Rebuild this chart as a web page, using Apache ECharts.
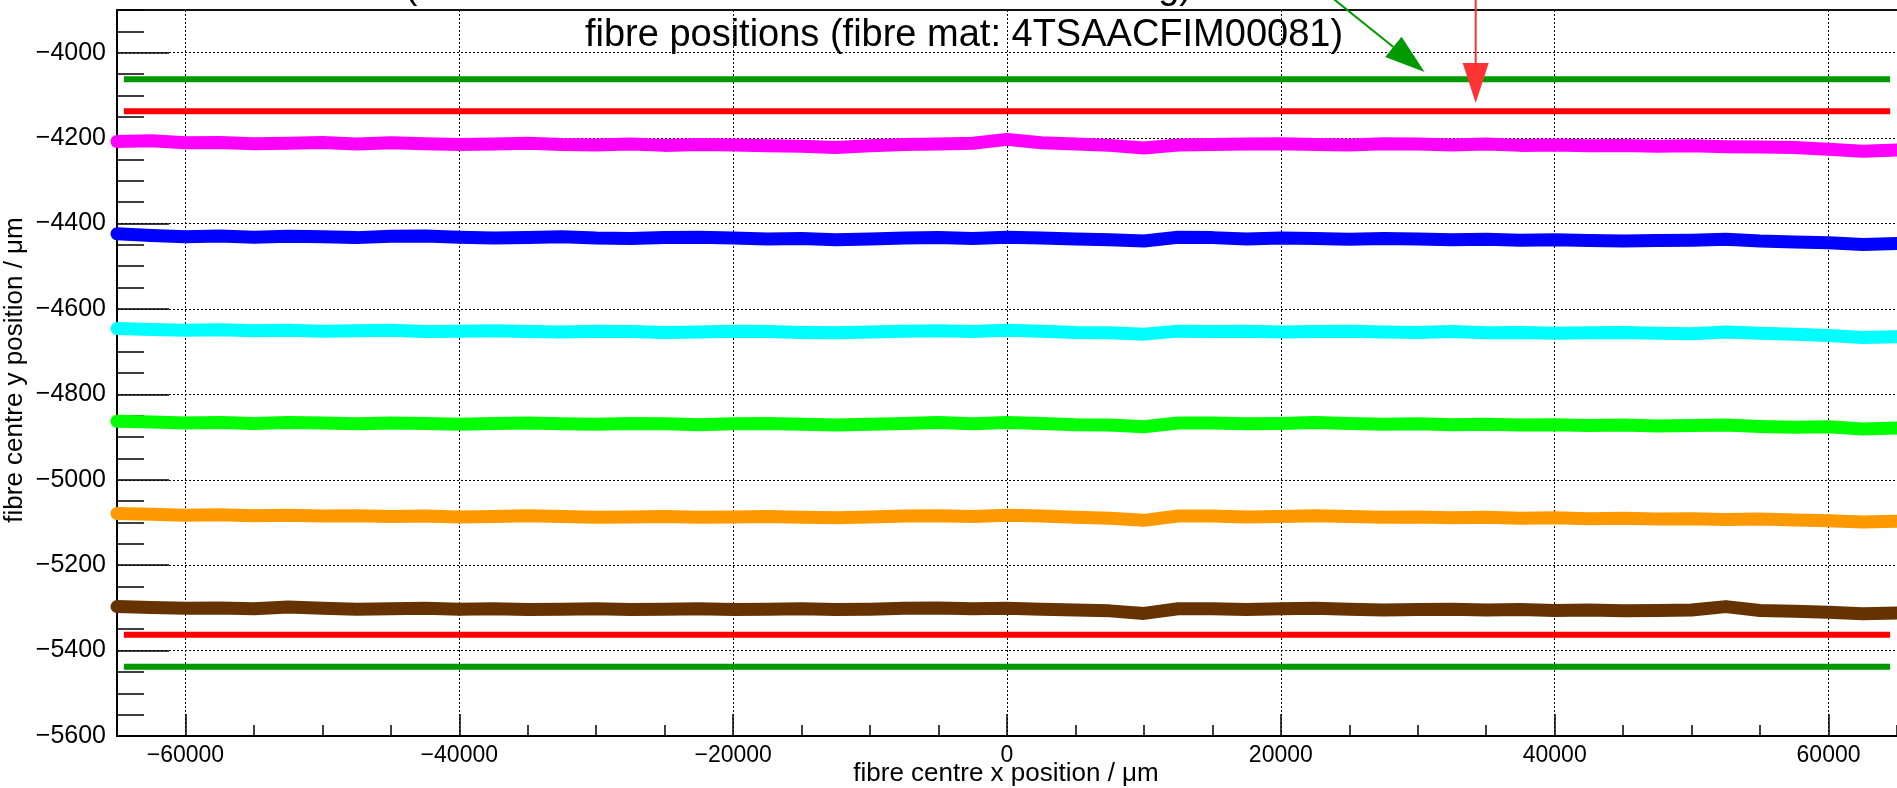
<!DOCTYPE html>
<html>
<head>
<meta charset="utf-8">
<title>fibre positions</title>
<script src="https://cdn.jsdelivr.net/npm/echarts@6/dist/echarts.min.js"></script>
<style>
  html, body { margin: 0; padding: 0; background: #ffffff; }
  #chart { width: 1897px; height: 788px; }
</style>
</head>
<body>
<div id="chart"></div>
<script>
// Sample positions along the fibre mat (µm)
const xPositions = [
  -65000, -62500, -60000, -57500, -55000, -52500, -50000, -47500, -45000, -42500,
  -40000, -37500, -35000, -32500, -30000, -27500, -25000, -22500, -20000, -17500,
  -15000, -12500, -10000, -7500, -5000, -2500, 0, 2500, 5000, 7500,
  10000, 12500, 15000, 17500, 20000, 22500, 25000, 27500, 30000, 32500,
  35000, 37500, 40000, 42500, 45000, 47500, 50000, 52500, 55000, 57500,
  60000, 62500, 65000
];

// Measured fibre centre y positions per fibre layer (µm)
const layerMagenta = [
  -4208, -4206, -4211, -4210, -4213, -4212, -4210, -4214, -4211, -4213,
  -4215, -4214, -4212, -4215, -4216, -4214, -4217, -4215, -4216, -4218,
  -4219, -4222, -4218, -4215, -4214, -4212, -4203, -4211, -4214, -4217,
  -4223, -4216, -4215, -4214, -4213, -4215, -4216, -4213, -4214, -4216,
  -4214, -4217, -4216, -4218, -4217, -4219, -4218, -4220, -4221, -4222,
  -4226, -4231, -4228
];
const layerBlue = [
  -4424, -4428, -4431, -4429, -4432, -4430, -4431, -4433, -4430, -4429,
  -4432, -4434, -4433, -4431, -4434, -4435, -4433, -4432, -4434, -4436,
  -4435, -4438, -4436, -4434, -4433, -4435, -4432, -4434, -4436, -4438,
  -4441, -4432, -4433, -4436, -4434, -4435, -4437, -4435, -4436, -4438,
  -4437, -4439, -4438, -4440, -4441, -4440, -4439, -4437, -4441, -4443,
  -4445, -4449, -4447
];
const layerCyan = [
  -4646, -4648, -4650, -4649, -4651, -4650, -4652, -4651, -4650, -4653,
  -4652, -4651, -4653, -4654, -4652, -4653, -4655, -4654, -4652, -4653,
  -4655, -4656, -4654, -4652, -4651, -4653, -4650, -4652, -4655, -4656,
  -4659, -4652, -4653, -4652, -4654, -4653, -4652, -4654, -4655, -4653,
  -4656, -4655, -4657, -4656, -4655, -4657, -4658, -4654, -4657, -4659,
  -4662, -4667, -4665
];
const layerGreen = [
  -4863, -4865, -4867, -4866, -4868, -4866, -4867, -4869, -4867, -4868,
  -4870, -4868, -4867, -4869, -4870, -4868, -4869, -4871, -4869, -4868,
  -4870, -4872, -4870, -4868, -4866, -4869, -4866, -4868, -4871, -4872,
  -4876, -4867, -4867, -4869, -4868, -4866, -4868, -4870, -4869, -4871,
  -4870, -4872, -4871, -4873, -4872, -4874, -4873, -4872, -4875, -4877,
  -4876, -4881, -4879
];
const layerOrange = [
  -5079, -5081, -5083, -5082, -5084, -5083, -5085, -5084, -5086, -5085,
  -5087, -5086, -5084, -5086, -5088, -5087, -5086, -5088, -5087, -5086,
  -5088, -5089, -5087, -5085, -5084, -5086, -5083, -5085, -5088, -5090,
  -5095, -5085, -5085, -5087, -5086, -5084, -5086, -5088, -5087, -5089,
  -5088, -5090, -5089, -5091, -5090, -5092, -5091, -5093, -5092, -5094,
  -5096, -5099, -5097
];
const layerBrown = [
  -5297, -5299, -5301, -5300, -5302, -5298, -5301, -5303, -5302, -5301,
  -5303, -5302, -5304, -5303, -5302, -5304, -5303, -5302, -5304, -5303,
  -5302, -5304, -5303, -5301, -5300, -5302, -5301, -5303, -5305, -5307,
  -5313, -5302, -5302, -5304, -5302, -5301, -5303, -5305, -5304, -5303,
  -5305, -5304, -5306, -5305, -5307, -5306, -5305, -5297, -5306, -5308,
  -5310, -5314, -5312
];

// Reference boundaries of the mat (µm)
const outerBoundsY = [-4062, -5438];
const innerBoundsY = [-4137, -5363];
const boundsX = [-64500, 64500];

// Annotation arrows: [xStart, yStart, xTip, yTip]
const outerArrow = [23300, -3860, 30500, -4045];
const innerArrow = [34230, -3860, 34230, -4118];

// Axis ranges and labels
const xRange = [-65000, 65000];
const yRange = [-5600, -3900];
const plotTitle = 'fibre positions (fibre mat: 4TSAACFIM00081)';
const xTitle = 'fibre centre x position / \u03bcm';
const yTitle = 'fibre centre y position / \u03bcm';
// Glyphs of the caption line above the frame that reach into the page
const captionStart = '(';
const captionEnd = 'g)';

const FONT = '"Liberation Sans", Arial, Helvetica, sans-serif';
const minus = v => String(v).replace('-', '\u2212');

function pairs(ys) {
  return xPositions.map((x, i) => [x, ys[i]]);
}

const layers = [
  { name: 'layer 1', ys: layerMagenta, color: '#ff00ff' },
  { name: 'layer 2', ys: layerBlue, color: '#0000ff' },
  { name: 'layer 3', ys: layerCyan, color: '#00ffff' },
  { name: 'layer 4', ys: layerGreen, color: '#00ff00' },
  { name: 'layer 5', ys: layerOrange, color: '#ff9900' },
  { name: 'layer 6', ys: layerBrown, color: '#663300' }
];

const series = [];

layers.forEach(l => {
  series.push({
    name: l.name,
    type: 'line',
    data: pairs(l.ys),
    symbol: 'none',
    clip: false,
    silent: true,
    lineStyle: { color: l.color, width: 13, cap: 'round', join: 'round' },
    z: 3
  });
});

function boundLine(y, color) {
  return {
    type: 'line',
    data: [[boundsX[0], y], [boundsX[1], y]],
    symbol: 'none',
    silent: true,
    lineStyle: { color: color, width: 6, cap: 'butt' },
    z: 4
  };
}
outerBoundsY.forEach(y => series.push(boundLine(y, '#009900')));
innerBoundsY.forEach(y => series.push(boundLine(y, '#ff0000')));

// Arrow drawn through the axis scales: shaft plus filled head
function arrowSeries(a, color) {
  return {
    type: 'custom',
    clip: false,
    silent: true,
    z: 6,
    data: [a],
    renderItem: function (params, api) {
      const p0 = api.coord([api.value(0), api.value(1)]);
      const p1 = api.coord([api.value(2), api.value(3)]);
      const dx = p1[0] - p0[0], dy = p1[1] - p0[1];
      const len = Math.sqrt(dx * dx + dy * dy);
      const ux = dx / len, uy = dy / len;
      const headLen = 40, headHalf = 13;
      const bx = p1[0] - ux * headLen, by = p1[1] - uy * headLen;
      return {
        type: 'group',
        children: [
          { type: 'line', shape: { x1: p0[0], y1: p0[1], x2: bx, y2: by },
            style: { stroke: color, lineWidth: 2 } },
          { type: 'polygon',
            shape: { points: [[p1[0], p1[1]],
                              [bx - uy * headHalf, by + ux * headHalf],
                              [bx + uy * headHalf, by - ux * headHalf]] },
            style: { fill: color } }
        ]
      };
    }
  };
}
series.push(arrowSeries(outerArrow, '#009900'));
series.push(arrowSeries(innerArrow, '#ff3333'));

const dotted = { color: '#000', width: 1, type: [2, 2] };
const tickStyle = { color: '#000', width: 1.5 };

const option = {
  animation: false,
  backgroundColor: '#ffffff',
  grid: { left: 117, right: -3, top: 10, bottom: 52, containLabel: false },
  xAxis: [
    {
      type: 'value', position: 'bottom', min: xRange[0], max: xRange[1], splitNumber: 6,
      axisLine: { show: true, onZero: false, lineStyle: { color: '#000', width: 2 } },
      axisTick: { show: true, inside: true, length: 22, lineStyle: tickStyle },
      axisLabel: { show: true, showMinLabel: false, showMaxLabel: false, margin: 8,
                   fontSize: 23, color: '#000', fontFamily: FONT, formatter: minus },
      splitLine: { show: true, lineStyle: dotted }
    },
    {
      type: 'value', position: 'bottom', min: xRange[0], max: xRange[1], interval: 5000,
      axisLine: { show: false, onZero: false },
      axisTick: { show: true, inside: true, length: 11, lineStyle: tickStyle },
      axisLabel: { show: false },
      splitLine: { show: false }
    },
    {
      type: 'value', position: 'top', min: xRange[0], max: xRange[1],
      axisLine: { show: true, onZero: false, lineStyle: { color: '#111', width: 2 } },
      axisTick: { show: false }, axisLabel: { show: false }, splitLine: { show: false }
    }
  ],
  yAxis: [
    {
      type: 'value', position: 'left', min: yRange[0], max: yRange[1], interval: 200,
      axisLine: { show: true, onZero: false, lineStyle: { color: '#000', width: 2 } },
      axisTick: { show: true, inside: true, length: 52, lineStyle: tickStyle },
      axisLabel: { show: true, showMaxLabel: false, margin: 11,
                   fontSize: 25, color: '#000', fontFamily: FONT, formatter: minus },
      splitLine: { show: true, lineStyle: dotted }
    },
    {
      type: 'value', position: 'left', min: yRange[0], max: yRange[1], interval: 50,
      axisLine: { show: false, onZero: false },
      axisTick: { show: true, inside: true, length: 27, lineStyle: tickStyle },
      axisLabel: { show: false },
      splitLine: { show: false }
    }
  ],
  graphic: [
    { type: 'text', x: 964, y: 36, z: 10,
      style: { text: plotTitle, fontSize: 38, fontFamily: FONT, fill: '#000',
               textAlign: 'center', textVerticalAlign: 'middle' } },
    { type: 'text', x: 411, y: -12, z: 10,
      style: { text: captionStart, fontSize: 38, fontFamily: FONT, fill: '#000',
               textAlign: 'center', textVerticalAlign: 'middle' } },
    { type: 'text', x: 1192, y: -12, z: 10,
      style: { text: captionEnd, fontSize: 38, fontFamily: FONT, fill: '#000',
               textAlign: 'right', textVerticalAlign: 'middle' } },
    { type: 'text', x: 1006, y: 774, z: 10,
      style: { text: xTitle, fontSize: 26, fontFamily: FONT, fill: '#000',
               textAlign: 'center', textVerticalAlign: 'middle' } },
    { type: 'text', x: 15, y: 370, rotation: Math.PI / 2, z: 10,
      style: { text: yTitle, fontSize: 26, fontFamily: FONT, fill: '#000',
               textAlign: 'center', textVerticalAlign: 'middle' } }
  ],
  series: series
};

const chart = echarts.init(document.getElementById('chart'), null, { renderer: 'canvas' });
chart.setOption(option);
</script>
</body>
</html>
